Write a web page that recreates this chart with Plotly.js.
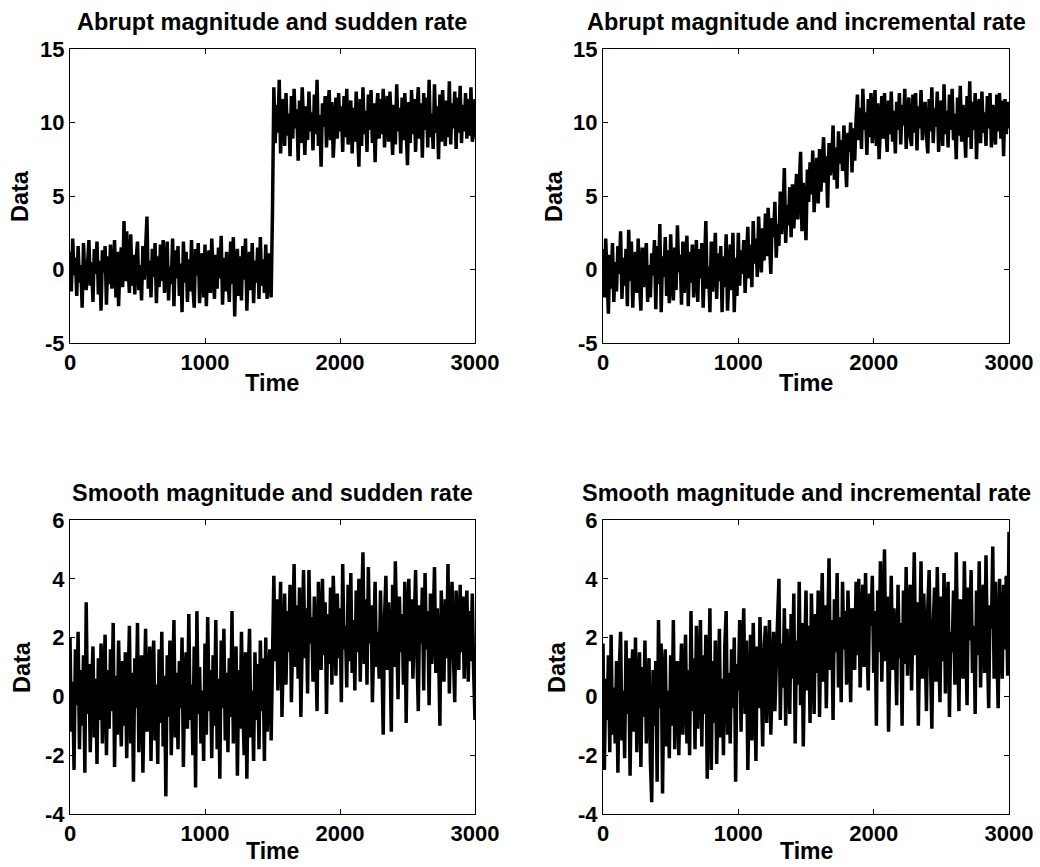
<!DOCTYPE html>
<html>
<head>
<meta charset="utf-8">
<script src="https://cdn.plot.ly/plotly-3.0.1.min.js"></script>
<style>
  html, body { margin: 0; padding: 0; background: #fff; }
  #chart { width: 1040px; height: 867px; }
</style>
</head>
<body>
<div id="chart"></div>
<script>
const time = [
  0,10,20,30,40,50,60,70,80,90,
  100,110,120,130,140,150,160,170,180,190,
  200,210,220,230,240,250,260,270,280,290,
  300,310,320,330,340,350,360,370,380,390,
  400,410,420,430,440,450,460,470,480,490,
  500,510,520,530,540,550,560,570,580,590,
  600,610,620,630,640,650,660,670,680,690,
  700,710,720,730,740,750,760,770,780,790,
  800,810,820,830,840,850,860,870,880,890,
  900,910,920,930,940,950,960,970,980,990,
  1000,1010,1020,1030,1040,1050,1060,1070,1080,1090,
  1100,1110,1120,1130,1140,1150,1160,1170,1180,1190,
  1200,1210,1220,1230,1240,1250,1260,1270,1280,1290,
  1300,1310,1320,1330,1340,1350,1360,1370,1380,1390,
  1400,1410,1420,1430,1440,1450,1460,1470,1480,1490,
  1500,1510,1520,1530,1540,1550,1560,1570,1580,1590,
  1600,1610,1620,1630,1640,1650,1660,1670,1680,1690,
  1700,1710,1720,1730,1740,1750,1760,1770,1780,1790,
  1800,1810,1820,1830,1840,1850,1860,1870,1880,1890,
  1900,1910,1920,1930,1940,1950,1960,1970,1980,1990,
  2000,2010,2020,2030,2040,2050,2060,2070,2080,2090,
  2100,2110,2120,2130,2140,2150,2160,2170,2180,2190,
  2200,2210,2220,2230,2240,2250,2260,2270,2280,2290,
  2300,2310,2320,2330,2340,2350,2360,2370,2380,2390,
  2400,2410,2420,2430,2440,2450,2460,2470,2480,2490,
  2500,2510,2520,2530,2540,2550,2560,2570,2580,2590,
  2600,2610,2620,2630,2640,2650,2660,2670,2680,2690,
  2700,2710,2720,2730,2740,2750,2760,2770,2780,2790,
  2800,2810,2820,2830,2840,2850,2860,2870,2880,2890,
  2900,2910,2920,2930,2940,2950,2960,2970,2980,2990,
  3000
];

// Abrupt magnitude and sudden rate
const abruptSudden = [
  1.2,-1.5,2.1,-0.4,0.8,-1.8,1.6,-0.9,0.3,-2.6,
  1.8,-0.6,-1.4,1.1,2.0,-1.1,0.5,-2.2,1.4,-0.3,
  1.9,-1.7,0.6,-2.8,1.3,-0.2,1.6,-2.4,0.9,-1.0,
  1.7,-1.3,-0.5,2.0,-1.9,1.2,-2.5,0.4,1.5,-1.2,
  3.3,-0.8,2.6,0.2,-1.6,2.4,-1.1,1.0,-1.7,0.7,
  1.9,-1.4,0.3,-2.1,1.6,-0.7,1.1,3.6,-1.3,0.6,
  -1.9,1.4,-0.5,1.8,-2.3,0.9,-1.2,1.7,-0.8,2.0,
  -1.6,0.8,1.9,-2.1,0.2,-1.0,2.1,-2.5,1.3,-0.6,
  1.6,-1.8,0.4,-2.9,1.9,-0.9,1.2,-2.2,0.7,-1.5,
  2.0,-1.1,-2.6,1.4,-0.4,1.8,-2.3,0.6,1.1,-1.9,
  1.7,-2.5,0.5,1.3,-1.6,2.1,-0.8,-2.0,1.0,-1.3,
  1.5,-0.6,2.3,-2.4,0.8,-1.5,1.2,-0.3,-2.2,1.9,
  -1.0,2.2,-3.2,0.5,1.4,-1.8,0.9,-2.1,1.6,-0.7,
  2.1,-2.8,0.3,1.2,-1.4,1.8,-2.3,0.6,-0.9,1.5,
  -2.0,2.2,-1.1,0.7,-1.6,1.7,-2.0,1.1,-0.5,-1.9,
  4.0,12.4,8.6,11.2,9.3,12.9,7.9,10.8,11.6,8.4,
  12.0,9.1,10.6,7.7,11.8,8.9,12.3,9.6,10.9,7.4,
  11.5,8.6,12.4,9.9,7.8,11.1,8.8,12.1,9.4,10.7,
  8.1,11.9,9.2,12.9,8.4,10.5,7.0,11.3,9.7,11.8,
  8.3,10.9,12.2,8.8,11.4,7.6,10.2,11.7,8.9,12.0,
  9.4,11.1,8.0,11.8,9.0,12.3,8.5,10.6,11.5,7.9,
  11.0,8.7,12.1,9.6,7.0,11.6,8.4,12.4,9.2,10.8,
  8.0,11.9,9.5,12.2,8.6,11.3,7.3,10.7,12.0,8.9,
  11.6,9.2,12.3,8.3,10.9,11.8,8.7,12.1,9.0,7.8,
  11.2,8.5,12.6,9.4,11.0,7.9,11.7,8.8,12.0,9.6,
  7.1,11.4,8.6,12.2,9.2,11.6,8.0,10.8,12.4,8.9,
  11.3,7.6,12.0,9.5,11.7,8.3,12.9,9.0,10.6,8.2,
  12.6,9.3,11.1,7.5,11.9,8.7,12.2,9.8,8.4,11.5,
  9.0,12.8,8.5,11.3,9.6,12.1,8.2,11.7,9.3,12.5,
  8.6,11.2,9.4,12.0,8.9,11.6,9.1,12.4,8.7,9.2,
  11.6
];

// Abrupt magnitude and incremental rate
const abruptIncremental = [
  1.4,-1.9,2.1,-0.6,-3.0,1.0,-1.3,1.8,-2.2,0.5,
  -1.5,1.6,-0.3,2.6,-2.0,0.8,-1.1,1.4,-2.5,2.7,
  -0.8,1.9,-2.6,0.4,1.2,-1.6,2.1,-0.9,-2.8,1.5,
  -1.2,0.7,1.8,-2.2,0.3,-1.9,1.1,-0.4,2.0,-2.7,
  1.6,-1.0,3.1,-2.9,0.9,-0.5,2.2,-1.8,1.3,-2.3,
  2.4,-0.7,-2.1,1.5,-1.4,3.0,-0.2,1.0,-2.4,1.9,
  -1.6,0.6,2.3,-2.5,1.2,-0.9,1.7,-1.9,0.4,2.0,
  -2.2,1.4,-0.6,1.8,-2.6,0.8,3.3,-1.3,0.2,-2.9,
  1.9,-1.5,0.7,2.5,-2.0,1.1,-0.8,1.6,-2.9,0.9,
  -1.2,2.4,-2.8,0.5,1.7,-1.4,2.5,-2.9,0.8,-1.8,
  2.5,-1.1,1.3,-0.3,2.0,-1.6,0.8,2.9,-0.6,1.7,
  -1.2,3.3,0.4,2.1,-0.5,3.6,1.0,-0.2,2.8,0.6,
  3.8,0.9,4.2,1.7,-0.3,3.5,2.2,4.6,0.8,3.1,
  1.6,5.3,2.4,4.0,6.9,1.8,4.4,3.0,5.6,2.2,
  5.8,2.8,4.9,6.5,3.4,5.2,8.0,2.6,5.9,4.1,
  2.0,6.8,4.6,7.3,5.1,8.1,3.9,6.2,7.6,4.5,
  8.2,5.3,7.0,9.0,5.9,7.7,4.2,8.6,6.4,7.4,
  9.8,6.1,8.3,5.5,9.4,7.2,8.8,6.7,9.8,7.5,
  5.6,9.3,8.0,10.0,6.6,9.6,7.4,10.2,11.9,8.8,
  11.0,8.2,12.3,9.5,10.7,7.8,11.6,9.0,12.0,8.6,
  10.9,12.2,8.4,11.3,7.5,10.4,11.8,8.9,12.0,9.6,
  8.0,11.5,9.2,12.1,8.7,10.8,7.9,11.4,9.5,12.0,
  8.5,11.2,9.8,12.3,8.2,10.6,11.7,9.0,8.4,11.9,
  9.3,12.0,8.1,11.1,9.6,12.2,8.8,10.5,11.4,9.1,
  7.9,11.6,9.4,12.4,8.6,11.0,9.7,12.1,8.0,10.9,
  11.5,8.4,12.6,9.2,10.8,8.3,11.9,9.5,12.3,8.8,
  10.6,7.5,11.7,9.1,12.5,8.7,11.2,9.9,7.6,11.8,
  9.0,12.8,8.2,11.4,9.5,12.0,7.5,10.9,11.6,8.6,
  12.1,9.3,10.7,8.4,11.8,9.6,12.0,8.3,11.2,9.8,
  8.5,11.9,9.4,12.0,8.9,11.5,7.7,11.6,9.2,11.4,
  9.6
];

// Smooth magnitude and sudden rate
const smoothSudden = [
  2.0,-1.2,0.5,-2.5,1.6,-0.3,2.2,-1.8,0.9,-1.0,
  1.4,-2.6,3.2,-0.6,1.1,-1.9,0.2,1.7,-1.4,0.6,
  -2.3,1.3,-0.8,1.8,-1.6,0.4,2.1,-2.0,0.9,-1.1,
  1.6,-0.5,2.5,-2.4,0.7,-1.3,1.9,-0.2,-1.7,1.2,
  -1.0,1.5,-2.1,0.3,2.4,-1.6,0.8,-2.9,1.3,-0.4,
  2.5,-1.9,0.6,1.4,-2.6,0.1,2.3,-1.2,-0.6,1.7,
  -2.2,0.9,1.9,-1.5,0.4,-2.3,1.6,-0.9,2.2,-1.7,
  0.7,-3.4,1.4,-0.7,1.9,-2.0,0.3,2.6,-1.4,0.8,
  -1.8,1.2,-0.4,2.0,-2.4,0.6,1.5,-1.1,2.8,-0.8,
  0.4,-2.0,1.7,-3.1,2.9,-0.6,1.0,-1.6,0.2,-2.2,
  1.8,-1.3,2.7,-0.5,0.9,-2.1,1.4,-1.0,2.6,-1.8,
  0.6,-2.8,1.9,-0.4,2.3,-1.5,0.8,-1.9,1.3,-0.7,
  2.9,-1.6,0.5,1.7,-2.7,0.9,-1.1,2.2,-0.3,-2.0,
  1.5,-2.8,0.7,2.3,-1.4,0.2,-2.2,1.5,-0.8,1.1,
  -1.8,1.9,-0.5,1.3,-2.2,2.0,-1.2,0.6,1.6,-1.5,
  0.8,4.1,1.2,3.3,0.2,2.6,3.9,-0.7,2.1,3.5,
  0.4,2.9,1.5,3.8,-0.2,2.4,4.5,1.0,3.1,0.6,
  3.7,-0.7,2.2,4.3,1.3,3.0,0.1,4.3,1.8,2.7,
  0.5,3.4,1.7,-0.5,3.9,2.1,0.9,4.0,1.4,3.2,
  -0.6,2.8,1.1,3.7,0.4,4.1,1.9,0.7,3.5,1.3,
  3.0,-0.2,4.5,1.6,2.4,0.3,3.8,1.2,4.2,0.8,
  2.6,0.2,3.6,1.5,4.0,0.5,2.9,4.9,1.1,3.3,
  0.4,4.4,1.8,3.1,-0.2,2.5,3.9,1.0,2.2,0.6,
  3.6,1.4,-1.3,2.7,4.1,0.9,3.2,1.7,-1.2,3.8,
  1.0,4.6,2.3,-0.1,3.4,1.5,2.8,0.4,3.9,-0.9,
  2.5,4.0,1.2,3.3,0.6,2.0,4.3,1.4,-0.5,3.1,
  1.8,3.7,0.2,4.2,1.6,2.9,-0.3,3.5,1.1,2.4,
  4.4,0.8,3.0,1.7,-1.0,3.6,2.2,0.5,3.3,1.3,
  4.5,0.1,2.7,3.9,1.4,-0.2,3.6,2.0,0.9,3.8,
  1.5,3.4,0.6,2.8,3.6,0.5,2.9,1.2,3.5,0.8,
  -0.8
];

// Smooth magnitude and incremental rate
const smoothIncremental = [
  1.8,-2.5,0.6,-0.8,1.4,-1.9,2.1,-1.3,0.3,-1.6,
  1.2,-2.6,0.9,2.2,-1.5,0.2,-2.1,1.9,-0.6,1.3,
  -2.7,0.8,1.6,-1.2,2.0,-1.9,0.4,1.5,-2.4,1.0,
  -0.7,1.9,-1.6,0.5,1.3,-2.2,-3.6,0.9,-1.0,1.2,
  -2.9,2.6,-0.4,1.8,-3.3,0.7,1.6,-1.7,0.2,-2.1,
  1.4,-1.0,2.6,-1.8,0.6,1.2,-2.0,0.3,1.8,-1.3,
  0.5,2.1,-1.6,0.9,-2.0,2.9,-0.5,1.3,-1.8,2.4,
  -1.1,0.8,2.6,-1.7,1.4,-0.6,2.1,-2.8,0.9,3.0,
  -2.5,1.2,-0.9,1.9,-2.3,0.4,2.3,-1.4,0.6,-2.0,
  1.7,2.9,-1.3,0.8,-1.6,1.6,-0.4,2.0,-2.9,1.1,
  0.2,2.6,-1.2,1.4,3.0,-0.6,1.9,-2.5,0.9,2.1,
  -1.5,2.5,0.3,-2.2,1.7,-0.4,2.7,0.8,-1.7,1.6,
  2.4,-0.9,1.2,2.6,-1.3,0.6,2.2,-0.5,1.5,2.6,
  4.0,-0.8,1.8,0.3,3.0,-1.0,2.3,1.1,-0.6,2.8,
  0.6,3.5,-1.6,1.9,0.4,3.9,-0.3,2.5,-1.7,1.4,
  3.6,0.2,2.4,-0.9,3.5,1.3,-0.6,2.8,0.8,3.6,
  -0.7,2.1,4.2,0.5,3.1,-0.4,1.9,4.7,0.9,2.6,
  -0.8,3.3,1.5,4.2,0.3,2.7,-0.2,3.9,1.6,2.9,
  0.4,3.6,1.8,-0.2,3.0,2.2,0.9,3.9,1.4,4.0,
  0.3,2.6,3.8,1.0,4.2,1.7,0.2,3.5,2.4,4.1,
  0.8,2.9,-1.0,3.6,1.5,4.6,0.5,2.7,5.0,1.2,
  3.4,-1.2,2.6,4.1,0.9,3.0,1.8,-0.3,3.8,1.3,
  2.5,-1.0,3.6,1.1,4.4,0.7,2.9,3.8,0.2,2.3,
  4.9,1.4,3.2,-1.0,2.6,4.6,0.6,3.5,1.9,-0.5,
  3.0,4.3,1.1,-1.1,2.4,3.7,0.5,4.4,1.6,-0.2,
  3.4,1.2,4.2,0.1,2.8,3.9,-0.7,2.2,1.5,3.6,
  0.4,4.9,1.8,-0.5,3.3,2.1,0.6,4.6,1.2,-0.3,
  3.7,1.9,4.3,0.8,2.4,-0.6,3.6,1.4,4.6,0.3,
  2.7,3.8,0.8,4.8,1.7,-0.4,3.1,2.3,5.1,0.6,
  3.9,1.3,-0.4,4.0,2.2,0.6,3.8,1.6,4.1,0.7,
  5.6
];

const panelTitles = [
  'Abrupt magnitude and sudden rate',
  'Abrupt magnitude and incremental rate',
  'Smooth magnitude and sudden rate',
  'Smooth magnitude and incremental rate'
];
const xTicks = [0, 1000, 2000, 3000];
const yTicksTop = [-5, 0, 5, 10, 15];
const yTicksBottom = [-4, -2, 0, 2, 4, 6];
const xLabel = 'Time';
const yLabel = 'Data';

// ---------- figure ----------
const W = 1040, H = 867;
const FONT = 'Liberation Sans, Arial, Helvetica, sans-serif';
const px = v => v / W;
const py = v => (H - v) / H;

const series = [abruptSudden, abruptIncremental, smoothSudden, smoothIncremental];
const traces = series.map((ys, i) => ({
  x: time, y: ys, type: 'scatter', mode: 'lines',
  line: { color: '#000', width: 3.5 },
  xaxis: i === 0 ? 'x' : 'x' + (i + 1),
  yaxis: i === 0 ? 'y' : 'y' + (i + 1),
  hoverinfo: 'skip', showlegend: false
}));

const colL = [px(70), px(475)];
const colR = [px(603), px(1009)];
const rowT = [py(343), py(49)];
const rowB = [py(814), py(520)];

function axisBase() {
  return {
    showline: true, linecolor: '#000', linewidth: 1, mirror: 'ticks',
    ticks: 'inside', ticklen: 5, tickcolor: '#000', tickwidth: 1,
    showgrid: false, zeroline: false, fixedrange: true,
    tickfont: { family: FONT, size: 22, color: '#000', weight: 700 }
  };
}
function xa(domain, anchor) {
  return Object.assign(axisBase(), {
    domain, anchor, range: [0, 3000], tickvals: xTicks, ticktext: xTicks.map(String)
  });
}
function ya(domain, anchor, range, tv) {
  return Object.assign(axisBase(), {
    domain, anchor, range, tickvals: tv, ticktext: tv.map(String)
  });
}

const ann = (text, x, y, size, angle, yanchor) => ({
  text, x, y, xref: 'paper', yref: 'paper', xanchor: 'center', yanchor: yanchor || 'middle',
  showarrow: false, textangle: angle || 0,
  font: { family: FONT, size, color: '#000', weight: 700 }
});

const layout = {
  width: W, height: H,
  margin: { l: 0, r: 0, t: 0, b: 0 },
  paper_bgcolor: '#fff', plot_bgcolor: '#fff',
  showlegend: false,
  xaxis: xa(colL, 'y'), yaxis: ya(rowT, 'x', [-5, 15], yTicksTop),
  xaxis2: xa(colR, 'y2'), yaxis2: ya(rowT, 'x2', [-5, 15], yTicksTop),
  xaxis3: xa(colL, 'y3'), yaxis3: ya(rowB, 'x3', [-4, 6], yTicksBottom),
  xaxis4: xa(colR, 'y4'), yaxis4: ya(rowB, 'x4', [-4, 6], yTicksBottom),
  annotations: [
    ann(panelTitles[0], px(272), py(22), 23.5),
    ann(panelTitles[1], px(806), py(22), 23.5),
    ann(panelTitles[2], px(272), py(493), 23.5),
    ann(panelTitles[3], px(806), py(493), 23.5),
    ann(xLabel, px(272), py(383), 23.5),
    ann(xLabel, px(806), py(383), 23.5),
    ann(xLabel, px(272), py(866), 23, 0, 'bottom'),
    ann(xLabel, px(806), py(866), 23, 0, 'bottom'),
    ann(yLabel, px(20), py(196), 23.5, -90),
    ann(yLabel, px(554), py(196), 23.5, -90),
    ann(yLabel, px(22), py(667), 23.5, -90),
    ann(yLabel, px(557), py(667), 23.5, -90)
  ]
};

Plotly.newPlot('chart', traces, layout, { staticPlot: true, displayModeBar: false });
</script>
</body>
</html>
